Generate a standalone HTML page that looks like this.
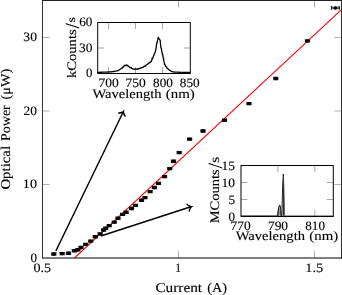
<!DOCTYPE html>
<html><head><meta charset="utf-8"><style>
html,body{margin:0;padding:0;background:#fff;}
svg{display:block;will-change:transform;}
text{font-family:"Liberation Serif",serif;fill:#000;stroke:#000;stroke-width:0.12px;text-rendering:geometricPrecision;}
</style></head><body>
<svg width="342" height="295" viewBox="0 0 342 295">
<defs><clipPath id="cm"><rect x="42.5" y="0.5" width="299" height="257.5"/></clipPath></defs>
<g stroke="#b0b0b0" stroke-width="1" fill="none">
<path d="M178.5,258 V251 M314.5,258 V251 M178.5,0.5 V7.5 M314.5,0.5 V7.5"/>
<path d="M42.5,184.5 H49.5 M42.5,111 H49.5 M42.5,37.5 H49.5 M341.5,184.5 H334.5 M341.5,111 H334.5 M341.5,37.5 H334.5"/>
</g>
<g clip-path="url(#cm)"><path d="M74.5,258 L341.5,9.7" stroke="#f00" stroke-width="1.1" fill="none"/></g>
<g fill="#000"><rect x="51.20" y="252.25" width="5.20" height="3.40" rx="0.2" fill="#111"/><circle cx="53.80" cy="253.95" r="1.7"/>
<rect x="59.60" y="251.95" width="5.20" height="3.40" rx="0.2" fill="#111"/><circle cx="62.20" cy="253.65" r="1.7"/>
<rect x="65.90" y="251.60" width="5.20" height="3.40" rx="0.2" fill="#111"/><circle cx="68.50" cy="253.30" r="1.7"/>
<rect x="71.80" y="249.00" width="5.20" height="3.40" rx="0.2" fill="#111"/><circle cx="74.40" cy="250.70" r="1.7"/>
<rect x="75.30" y="248.00" width="5.20" height="3.40" rx="0.2" fill="#111"/><circle cx="77.90" cy="249.70" r="1.7"/>
<rect x="78.40" y="245.80" width="5.20" height="3.40" rx="0.2" fill="#111"/><circle cx="81.00" cy="247.50" r="1.7"/>
<rect x="83.10" y="242.70" width="5.20" height="3.40" rx="0.2" fill="#111"/><circle cx="85.70" cy="244.40" r="1.7"/>
<rect x="88.10" y="239.40" width="5.20" height="3.40" rx="0.2" fill="#111"/><circle cx="90.70" cy="241.10" r="1.7"/>
<rect x="92.70" y="235.10" width="5.20" height="3.40" rx="0.2" fill="#111"/><circle cx="95.30" cy="236.80" r="1.7"/>
<rect x="97.50" y="232.20" width="5.20" height="3.40" rx="0.2" fill="#111"/><circle cx="100.10" cy="233.90" r="1.7"/>
<rect x="101.00" y="228.30" width="5.20" height="3.40" rx="0.2" fill="#111"/><circle cx="103.60" cy="230.00" r="1.7"/>
<rect x="103.10" y="226.50" width="5.20" height="3.40" rx="0.2" fill="#111"/><circle cx="105.70" cy="228.20" r="1.7"/>
<rect x="106.60" y="223.90" width="5.20" height="3.40" rx="0.2" fill="#111"/><circle cx="109.20" cy="225.60" r="1.7"/>
<rect x="111.70" y="220.40" width="5.20" height="3.40" rx="0.2" fill="#111"/><circle cx="114.30" cy="222.10" r="1.7"/>
<rect x="115.40" y="216.60" width="5.20" height="3.40" rx="0.2" fill="#111"/><circle cx="118.00" cy="218.30" r="1.7"/>
<rect x="120.00" y="212.70" width="5.20" height="3.40" rx="0.2" fill="#111"/><circle cx="122.60" cy="214.40" r="1.7"/>
<rect x="123.50" y="210.60" width="5.20" height="3.40" rx="0.2" fill="#111"/><circle cx="126.10" cy="212.30" r="1.7"/>
<rect x="128.90" y="206.80" width="5.20" height="3.40" rx="0.2" fill="#111"/><circle cx="131.50" cy="208.50" r="1.7"/>
<rect x="132.80" y="203.70" width="5.20" height="3.40" rx="0.2" fill="#111"/><circle cx="135.40" cy="205.40" r="1.7"/>
<rect x="138.90" y="198.60" width="5.20" height="3.40" rx="0.2" fill="#111"/><circle cx="141.50" cy="200.30" r="1.7"/>
<rect x="142.40" y="195.90" width="5.20" height="3.40" rx="0.2" fill="#111"/><circle cx="145.00" cy="197.60" r="1.7"/>
<rect x="147.50" y="189.90" width="5.20" height="3.40" rx="0.2" fill="#111"/><circle cx="150.10" cy="191.60" r="1.7"/>
<rect x="151.80" y="185.80" width="5.20" height="3.40" rx="0.2" fill="#111"/><circle cx="154.40" cy="187.50" r="1.7"/>
<rect x="155.90" y="181.70" width="5.20" height="3.40" rx="0.2" fill="#111"/><circle cx="158.50" cy="183.40" r="1.7"/>
<rect x="162.00" y="174.90" width="5.20" height="3.40" rx="0.2" fill="#111"/><circle cx="164.60" cy="176.60" r="1.7"/>
<rect x="167.10" y="166.90" width="5.20" height="3.40" rx="0.2" fill="#111"/><circle cx="169.70" cy="168.60" r="1.7"/>
<rect x="170.90" y="159.60" width="5.20" height="3.40" rx="0.2" fill="#111"/><circle cx="173.50" cy="161.30" r="1.7"/>
<rect x="176.60" y="150.90" width="5.20" height="3.40" rx="0.2" fill="#111"/><circle cx="179.20" cy="152.60" r="1.7"/>
<rect x="187.00" y="137.40" width="5.20" height="3.40" rx="0.2" fill="#111"/><circle cx="189.60" cy="139.10" r="1.7"/>
<rect x="200.40" y="129.30" width="5.20" height="3.40" rx="0.2" fill="#111"/><circle cx="203.00" cy="131.00" r="1.7"/>
<rect x="221.90" y="118.60" width="5.20" height="3.40" rx="0.2" fill="#111"/><circle cx="224.50" cy="120.30" r="1.7"/>
<rect x="246.40" y="101.90" width="5.20" height="3.40" rx="0.2" fill="#111"/><circle cx="249.00" cy="103.60" r="1.7"/>
<rect x="273.20" y="76.80" width="5.20" height="3.40" rx="0.2" fill="#111"/><circle cx="275.80" cy="78.50" r="1.7"/>
<rect x="304.90" y="39.20" width="5.20" height="3.40" rx="0.2" fill="#111"/><circle cx="307.50" cy="40.90" r="1.7"/>
<rect x="331.45" y="6.60" width="7.9" height="2.6" fill="#6a6a6a"/><path d="M331.45,5.95 V9.85 M339.34999999999997,5.95 V9.85" stroke="#222" stroke-width="1.15" fill="none"/><circle cx="335.4" cy="7.9" r="1.75"/></g>
<path d="M42.5,258.3 V0 M341.5,258.3 V0" stroke="#333" stroke-width="1" fill="none"/>
<path d="M42,0.5 H342" stroke="#222" stroke-width="1" fill="none"/>
<path d="M42,258 H342" stroke="#000" stroke-width="1.2" fill="none"/>
<g stroke="#000" stroke-width="1.45" fill="none" stroke-linecap="round">
<path d="M56.10,250.50 L123.18,111.95" /><path d="M125.19,116.07 C124.07,115.28 123.33,112.17 123.42,111.46 C122.92,111.97 120.02,113.31 118.71,112.93" />
<path d="M101.60,235.80 L190.91,206.79" /><path d="M189.32,211.09 C189.12,209.73 190.85,207.04 191.42,206.62 C190.71,206.61 187.73,205.45 187.10,204.24" />
</g>
<rect x="97.7" y="22.5" width="92.6" height="51" fill="#fff"/>
<g stroke="#aaa" stroke-width="1" fill="none">
<path d="M108.5,22.5 V29 M135.5,22.5 V29 M162.5,22.5 V29 M108.5,73.5 V67 M135.5,73.5 V67 M162.5,73.5 V67 M97.7,48 H104.2 M190.3,48 H183.8"/>
</g>
<path d="M97.80,72.38 L98.35,72.33 L98.90,72.37 L99.45,72.27 L100.00,72.30 L100.50,72.26 L101.00,72.20 L101.50,72.24 L102.00,72.16 L102.50,72.19 L103.00,72.12 L103.50,72.10 L104.00,72.13 L104.50,72.16 L105.00,72.05 L105.50,72.04 L106.00,72.08 L106.50,72.10 L107.00,72.03 L107.50,71.99 L108.00,72.04 L108.50,71.90 L109.00,71.99 L109.50,71.89 L110.00,71.85 L110.50,71.80 L111.00,71.77 L111.50,71.79 L112.00,71.66 L112.50,71.66 L113.00,71.62 L113.50,71.53 L114.00,71.51 L114.50,71.33 L115.00,71.22 L115.50,71.14 L116.00,71.14 L116.50,70.96 L117.00,70.80 L117.50,70.75 L118.00,70.59 L118.50,70.23 L119.00,70.11 L119.50,69.78 L120.00,69.28 L120.40,69.14 L120.80,68.81 L121.20,68.73 L121.60,68.35 L122.00,67.75 L122.40,67.92 L122.80,66.92 L123.20,66.81 L123.60,66.77 L124.00,65.89 L124.50,65.84 L125.00,65.09 L125.50,65.48 L126.00,65.40 L126.50,65.07 L127.00,65.60 L127.50,65.37 L128.00,65.98 L128.40,66.18 L128.80,66.47 L129.20,66.66 L129.60,67.28 L130.00,67.65 L130.50,67.56 L131.00,67.96 L131.50,67.84 L132.00,68.52 L132.50,68.66 L133.00,69.03 L133.50,69.10 L134.00,68.99 L134.50,69.09 L135.00,69.28 L135.50,69.02 L136.00,69.28 L136.50,69.09 L137.00,69.01 L137.50,68.93 L138.00,69.24 L138.50,68.70 L139.00,68.56 L139.50,68.43 L140.00,68.53 L140.50,67.82 L141.00,67.86 L141.50,67.74 L142.00,67.79 L142.50,67.50 L143.00,67.30 L143.50,66.56 L144.00,66.42 L144.50,66.10 L145.00,66.30 L145.50,66.09 L146.00,65.09 L146.50,64.76 L147.00,64.46 L147.50,64.11 L148.00,63.99 L148.40,63.78 L148.80,63.19 L149.20,62.65 L149.60,62.73 L150.00,62.38 L150.40,62.13 L150.80,62.04 L151.20,61.37 L151.42,60.71 L151.64,60.31 L151.86,59.86 L152.08,58.80 L152.30,59.06 L152.54,58.41 L152.78,57.96 L153.02,57.35 L153.26,56.44 L153.50,55.91 L153.75,55.14 L154.00,55.12 L154.25,54.11 L154.50,53.61 L154.70,53.24 L154.90,52.70 L155.10,52.36 L155.30,51.60 L155.40,51.05 L155.50,50.69 L155.60,50.14 L155.70,49.88 L155.80,49.07 L155.90,49.34 L156.00,48.60 L156.10,47.68 L156.15,47.28 L156.20,46.86 L156.25,46.38 L156.30,45.66 L156.35,45.81 L156.40,45.44 L156.54,44.47 L156.68,43.99 L156.81,43.13 L156.95,42.64 L157.09,42.36 L157.22,41.79 L157.36,41.80 L157.50,40.70 L157.62,40.00 L157.73,40.27 L157.85,39.33 L157.97,38.42 L158.08,38.21 L158.20,37.17 L158.70,38.13 L159.20,39.03 L159.60,39.53 L160.00,39.98 L160.08,40.13 L160.16,40.76 L160.24,41.12 L160.32,42.20 L160.40,42.53 L160.44,43.25 L160.48,43.35 L160.52,43.75 L160.56,44.78 L160.60,45.44 L160.68,45.82 L160.77,46.28 L160.85,46.79 L160.93,47.22 L161.02,47.25 L161.10,48.02 L161.21,48.37 L161.32,48.58 L161.44,49.08 L161.55,49.80 L161.66,50.28 L161.78,51.17 L161.89,51.91 L162.00,51.95 L162.11,52.89 L162.22,53.44 L162.34,53.91 L162.45,53.88 L162.56,54.25 L162.68,54.75 L162.79,55.23 L162.90,55.73 L163.00,56.61 L163.10,57.36 L163.20,57.81 L163.30,57.98 L163.40,58.64 L163.50,59.27 L163.60,59.13 L163.70,60.14 L163.81,60.87 L163.92,61.25 L164.04,61.73 L164.15,61.98 L164.26,62.21 L164.38,63.26 L164.49,63.35 L164.60,64.27 L164.82,64.92 L165.05,64.91 L165.28,65.41 L165.50,66.40 L165.80,66.60 L166.10,66.52 L166.40,66.90 L166.70,67.34 L167.00,68.27 L167.40,68.52 L167.80,68.46 L168.20,69.17 L168.60,69.56 L169.00,69.73 L169.40,69.94 L169.86,70.32 L170.32,70.49 L170.78,70.78 L171.24,71.29 L171.70,71.52 L172.27,71.65 L172.85,71.86 L173.43,71.94 L174.00,72.15 L174.50,72.16 L175.00,72.09 L175.50,72.12 L176.00,72.14 L176.50,72.15 L177.00,72.21 L177.50,72.18 L178.00,72.22 L178.50,72.20 L179.00,72.32 L179.50,72.26 L180.00,72.29 L180.50,72.32 L181.00,72.36 L181.50,72.30 L182.00,72.38 L182.50,72.33 L183.00,72.33 L183.50,72.34 L184.00,72.28 L184.50,72.34 L185.00,72.31 L185.50,72.29 L186.00,72.40 L186.50,72.32 L187.00,72.37 L187.50,72.41 L188.00,72.39 L188.50,72.36 L189.00,72.39 L189.50,72.40 L190.00,72.40" stroke="#000" stroke-width="1.3" fill="none" stroke-linejoin="miter" stroke-miterlimit="3"/>
<rect x="97.7" y="22.5" width="92.6" height="51" fill="none" stroke="#000" stroke-width="1"/>
<rect x="241" y="165.5" width="92.3" height="51" fill="#fff"/>
<g stroke="#aaa" stroke-width="1" fill="none">
<path d="M277.9,165.5 V172 M314.8,165.5 V172 M277.9,216.5 V210 M314.8,216.5 V210 M241,182.5 H247.5 M241,199.5 H247.5 M333.3,182.5 H326.8 M333.3,199.5 H326.8"/>
</g>
<path d="M277.6,215.8 L278.3,209.5 L279,206 L279.6,205.2 L280.3,205.8 L280.9,209.5 L281.6,215.8 Z" fill="#9a9a9a"/>
<path d="M281.9,215.8 L282.4,196 L282.9,181 L283.3,174.2 L283.8,186 L284.2,200 L284.5,215.8 Z" fill="#c8c8c8"/>
<path d="M241,215.9 H277.4 L278.2,211 L278.7,207.5 L279.4,205.3 L279.9,205.2 L280.4,207 L280.7,209.5 L281.2,215.9 H281.8 L282.3,197 L282.8,182 L283.3,174.2 L283.5,176 L283.6,215.9" stroke="#000" stroke-width="0.85" fill="none" stroke-linejoin="round"/>
<path d="M283.4,176 L283.9,188 L284.3,203 L284.6,215.9 H333" stroke="#444" stroke-width="0.8" fill="none" stroke-linejoin="round"/>
<path d="M278.3,215.9 L278.5,210 M281.0,215.9 L280.8,211" stroke="#333" stroke-width="0.7" fill="none"/>
<rect x="241" y="165.5" width="92.3" height="51" fill="none" stroke="#000" stroke-width="1"/>
<text transform="translate(30.38,262.00) scale(1.0231,1)" font-size="12.8">0</text>
<text transform="translate(22.83,188.45) scale(1.1045,1)" font-size="12.8">10</text>
<text transform="translate(23.57,114.90) scale(1.0445,1)" font-size="12.8">20</text>
<text transform="translate(23.32,41.30) scale(1.0646,1)" font-size="12.8">30</text>
<text transform="translate(33.54,271.50) scale(1.1018,1)" font-size="12.8">0.5</text>
<text transform="translate(175.27,271.50) scale(0.8929,1)" font-size="12.8">1</text>
<text transform="translate(305.31,271.50) scale(1.1230,1)" font-size="12.8">1.5</text>
<text transform="translate(155.39,291.70) scale(1.1320,1)" font-size="13.5">Current</text>
<text transform="translate(207.13,291.70) scale(1.0598,1)" font-size="13.5">(A)</text>
<text transform="translate(9.80,189.59) rotate(-90) scale(1.0983,1)" font-size="13.5">Optical</text>
<text transform="translate(9.80,140.92) rotate(-90) scale(1.0347,1)" font-size="13.5">Power</text>
<text transform="translate(9.80,99.47) rotate(-90) scale(1.0572,1)" font-size="13.5">(μW)</text>
<text transform="translate(79.17,26.40) scale(1.0275,1)" font-size="12.8">60</text>
<text transform="translate(78.93,51.90) scale(1.0474,1)" font-size="12.8">30</text>
<text transform="translate(85.89,77.40) scale(1.0045,1)" font-size="12.8">0</text>
<text transform="translate(98.50,86.50) scale(1.0567,1)" font-size="12.8">700</text>
<text transform="translate(125.45,86.50) scale(1.0567,1)" font-size="12.8">750</text>
<text transform="translate(153.02,86.50) scale(1.0343,1)" font-size="12.8">800</text>
<text transform="translate(179.87,86.50) scale(1.0343,1)" font-size="12.8">850</text>
<text transform="translate(92.40,97.60) scale(1.1198,1)" font-size="13">Wavelength</text>
<text transform="translate(165.80,97.60) scale(1.1456,1)" font-size="13">(nm)</text>
<text transform="translate(75.70,78.09) rotate(-90) scale(1.1257,1)" font-size="13">kCounts</text>
<text transform="translate(78.50,28.40) rotate(-90) scale(0.9286,1.0000)" font-size="20">/</text>
<text transform="translate(75.09,22.45) rotate(-90) scale(1.0670,0.8814)" font-size="13">s</text>
<text transform="translate(221.59,169.50) scale(1.0506,1)" font-size="12.8">15</text>
<text transform="translate(221.59,186.60) scale(1.0506,1)" font-size="12.8">10</text>
<text transform="translate(228.41,203.60) scale(1.0352,1)" font-size="12.8">5</text>
<text transform="translate(228.48,220.60) scale(1.0231,1)" font-size="12.8">0</text>
<text transform="translate(230.56,229.70) scale(1.0510,1)" font-size="12.8">770</text>
<text transform="translate(267.91,229.70) scale(1.0510,1)" font-size="12.8">790</text>
<text transform="translate(305.22,229.70) scale(1.0288,1)" font-size="12.8">810</text>
<text transform="translate(235.80,240.30) scale(1.1198,1)" font-size="13">Wavelength</text>
<text transform="translate(309.31,240.30) scale(1.1414,1)" font-size="13">(nm)</text>
<text transform="translate(218.50,223.23) rotate(-90) scale(1.1118,1)" font-size="13">MCounts</text>
<text transform="translate(221.70,168.60) rotate(-90) scale(0.9821,1.0000)" font-size="20">/</text>
<text transform="translate(218.57,162.72) rotate(-90) scale(1.1911,1.0256)" font-size="13">s</text>
</svg>
</body></html>
